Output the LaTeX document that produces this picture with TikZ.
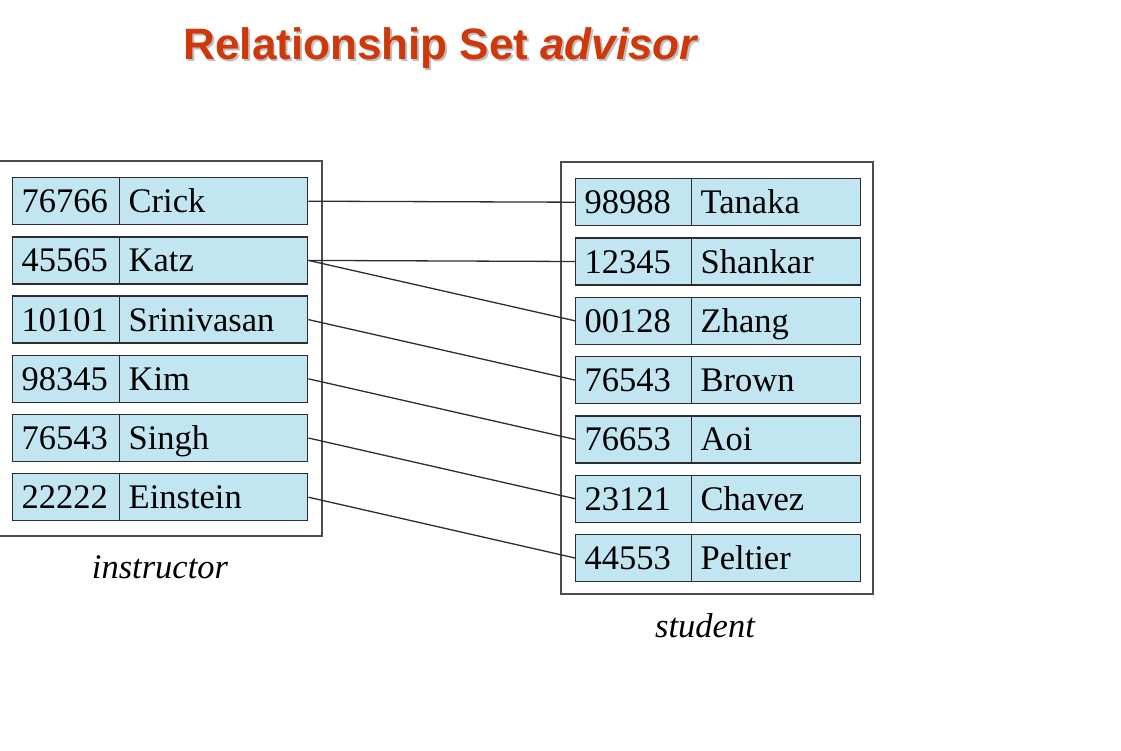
\documentclass[tikz,border=0pt]{standalone}
\usepackage{fontspec}
\setmainfont{Liberation Serif}
\setsansfont{Liberation Sans}

\definecolor{cellblue}{RGB}{194,230,241}
\definecolor{titlered}{RGB}{206,56,10}
\definecolor{edgegray}{RGB}{45,45,45}

\tikzset{
  cellbox/.style={draw=edgegray, line width=1.4pt, fill=cellblue,
    minimum height=47pt, inner xsep=9pt, inner ysep=0pt,
    text height=23pt, text depth=0pt, align=left, anchor=north west,
    font=\fontsize{34.5}{34.5}\selectfont, text width=#1},
  tablebox/.style={draw=edgegray!85, line width=1.4pt},
  advlink/.style={draw=edgegray, line width=1.3pt},
  setlabel/.style={font=\fontsize{34.5}{34.5}\selectfont\itshape}
}

\begin{document}
\begin{tikzpicture}[x=1pt, y=-1pt]
    \useasboundingbox (0,0) rectangle (1121,750);

    % Title
    \node[anchor=west, text=black!25, font=\sffamily\bfseries\fontsize{44}{44}\selectfont]
        (title-shadow) at (182,50) {Relationship Set \textit{advisor}};
    \node[anchor=west, text=titlered, font=\sffamily\bfseries\fontsize{44}{44}\selectfont]
        (title) at (180,48) {Relationship Set \textit{advisor}};

    % Outer frames of the two entity sets
    \draw[tablebox] (-5,161) rectangle (322,536);
    \draw[tablebox] (561,162) rectangle (873,594);

    % Entity set instructor
    \foreach \i/\id/\nm in {1/76766/Crick, 2/45565/Katz, 3/10101/Srinivasan,
                            4/98345/Kim, 5/76543/Singh, 6/22222/Einstein} {
        \node[cellbox=89pt]  (ins-id-\i) at (12,  {177+59.2*(\i-1)}) {\id};
        \node[cellbox=170pt] (ins-nm-\i) at (119, {177+59.2*(\i-1)}) {\nm};
    }

    % Entity set student
    \foreach \i/\id/\nm in {1/98988/Tanaka, 2/12345/Shankar, 3/00128/Zhang,
                            4/76543/Brown, 5/76653/Aoi, 6/23121/Chavez, 7/44553/Peltier} {
        \node[cellbox=98pt]  (stu-id-\i) at (575, {178+59.3*(\i-1)}) {\id};
        \node[cellbox=151pt] (stu-nm-\i) at (691, {178+59.3*(\i-1)}) {\nm};
    }

    % Relationship advisor
    \foreach \a/\b in {1/1, 2/2, 2/3, 3/4, 4/5, 5/6, 6/7} {
        \draw[advlink] (ins-nm-\a.east) -- (stu-id-\b.west);
    }

    % Set names
    \node[setlabel] (ins-label) at (160,567) {instructor};
    \node[setlabel] (stu-label) at (705,626) {student};

\end{tikzpicture}
\end{document}
